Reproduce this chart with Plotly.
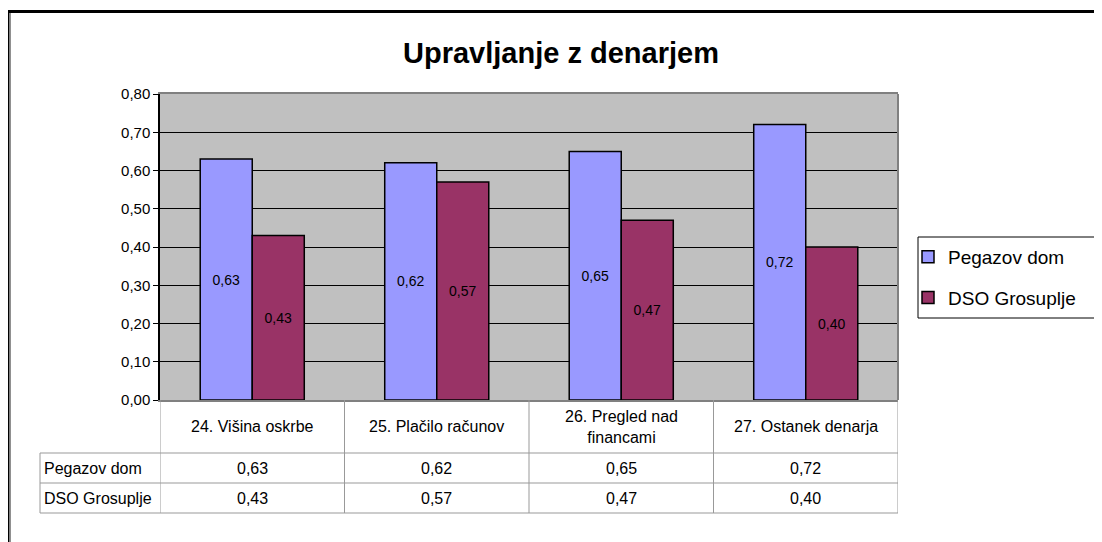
import plotly.graph_objects as go

# data
categories = ["24. Višina oskrbe", "25. Plačilo računov", "26. Pregled nad<br>financami", "27. Ostanek denarja"]
series_names = ["Pegazov dom", "DSO Grosuplje"]
pegazov = [0.63, 0.62, 0.65, 0.72]
dso = [0.43, 0.57, 0.47, 0.40]
series_values = [pegazov, dso]
colors = ["#9999FF", "#993366"]

# the page body adds an 8px margin, so the figure is drawn 8px smaller
OFF = 8
W, H = 1102 - OFF, 542 - OFF
FONT = "Arial, Liberation Sans, sans-serif"


def px(x):
    return (x - OFF) / W


def py(y):
    return 1 - (y - OFF) / H


fig = go.Figure()
for i, (name, vals) in enumerate(zip(series_names, series_values)):
    fig.add_trace(go.Bar(
        x=categories, y=vals, name=name, legendgroup=name,
        marker=dict(color=colors[i], line=dict(color="black", width=1.5)),
        texttemplate="%{y:.2f}", textposition="inside", insidetextanchor="middle",
        textangle=0, constraintext="none",
        textfont=dict(family=FONT, size=14, color="black"),
    ))

grid_c = "#808080"
shapes = []
# outer frame (left and top)
shapes.append(dict(type="line", xref="paper", yref="paper", x0=0, x1=0, y0=py(10), y1=0,
                   line=dict(color="black", width=3)))
shapes.append(dict(type="line", xref="paper", yref="paper", x0=px(10.5), x1=px(10.5), y0=py(13), y1=0,
                   line=dict(color="#909090", width=1)))
shapes.append(dict(type="line", xref="paper", yref="paper", x0=0, x1=1, y0=py(11.5), y1=py(11.5),
                   line=dict(color="black", width=3)))
# right border of plot area
shapes.append(dict(type="line", xref="paper", yref="paper", x0=px(898), x1=px(898), y0=py(94), y1=py(400),
                   line=dict(color=grid_c, width=2)))
# data table lines
tc = "#999999"
for yy in [453, 483, 513]:
    shapes.append(dict(type="line", xref="paper", yref="paper", x0=px(40), x1=px(898), y0=py(yy), y1=py(yy),
                       line=dict(color=tc, width=1)))
shapes.append(dict(type="line", xref="paper", yref="paper", x0=px(40), x1=px(40), y0=py(453), y1=py(513),
                   line=dict(color=tc, width=1)))
for k in range(len(categories) + 1):
    shapes.append(dict(type="line", xref="x", yref="paper", x0=k - 0.5, x1=k - 0.5, y0=py(400), y1=py(513),
                       line=dict(color=tc, width=1)))
# legend box
shapes.append(dict(type="rect", xref="paper", yref="paper", x0=px(918), x1=px(1099), y0=py(237), y1=py(318),
                   line=dict(color="black", width=1)))

annotations = []
for i, cat in enumerate(categories):
    annotations.append(dict(x=cat, xref="x", y=py(426.5), yref="paper", text=cat, showarrow=False,
                            font=dict(family=FONT, size=16, color="black"), yanchor="middle"))
row_y = [468, 498]
for r, (name, vals) in enumerate(zip(series_names, series_values)):
    annotations.append(dict(x=px(42), xref="paper", y=py(row_y[r]), yref="paper", text=name, showarrow=False,
                            xanchor="left", yanchor="middle", font=dict(family=FONT, size=16, color="black")))
    for cat, v in zip(categories, vals):
        annotations.append(dict(x=cat, xref="x", y=py(row_y[r]), yref="paper", yanchor="middle",
                                text=f"{v:.2f}".replace(".", ","), showarrow=False,
                                font=dict(family=FONT, size=16, color="black")))

fig.update_layout(
    width=W, height=H, margin=dict(l=0, r=0, t=0, b=0, autoexpand=False),
    paper_bgcolor="white", plot_bgcolor="#C0C0C0",
    separators=", ",
    font=dict(family=FONT, color="black"),
    title=dict(text="<b>Upravljanje z denarjem</b>", x=px(561), xanchor="center", xref="paper",
               y=py(53), yanchor="middle", yref="paper", font=dict(family=FONT, size=29, color="black")),
    barmode="group", bargap=0.436, bargroupgap=0,
    showlegend=True,
    legend=dict(x=px(908), y=py(238), xanchor="left", yanchor="top", bgcolor="rgba(0,0,0,0)",
                borderwidth=0, traceorder="grouped", tracegroupgap=13,
                font=dict(family=FONT, size=19, color="black")),
    xaxis=dict(domain=[px(160), px(898)], showticklabels=False, ticks="", showgrid=False, automargin=False,
               showline=True, linecolor=grid_c, linewidth=2, mirror=True, range=[-0.5, 3.5]),
    yaxis=dict(domain=[py(400), py(94)], range=[0, 0.8], dtick=0.1, tickformat=".2f", automargin=False,
               showgrid=True, gridcolor="black", gridwidth=1, zeroline=False,
               showline=True, linecolor="black", linewidth=1.5,
               ticks="outside", ticklen=5, tickcolor="black",
               tickfont=dict(family=FONT, size=15, color="black")),
    shapes=shapes, annotations=annotations,
)

fig.write_html("out.html")
